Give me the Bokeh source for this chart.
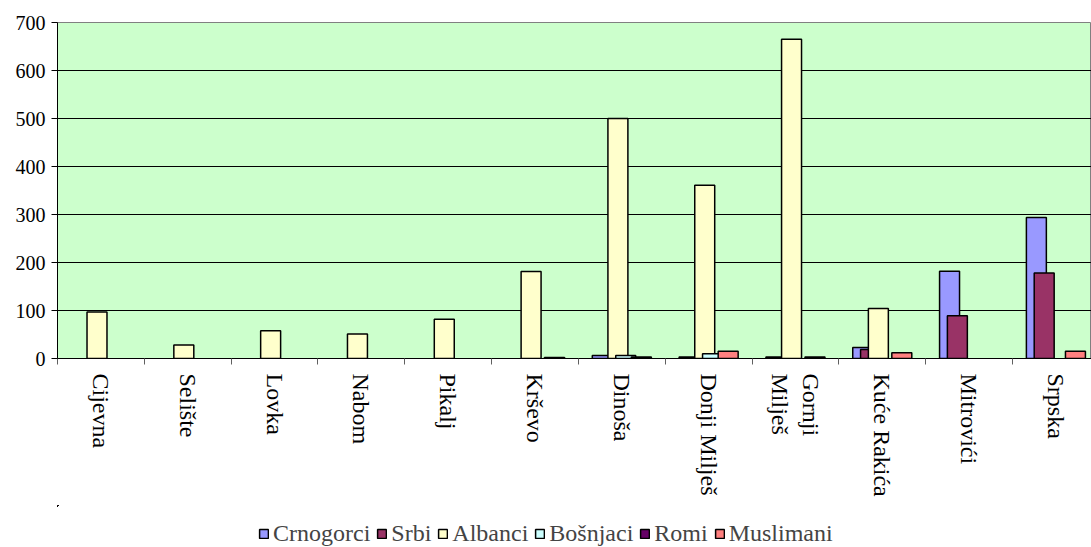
import math
from bokeh.plotting import figure
from bokeh.layouts import column
from bokeh.models import ColumnDataSource, Range1d, FixedTicker, Legend, LegendItem
from bokeh.embed import file_html
from bokeh.resources import INLINE

categories = ["Cijevna", "Selište", "Lovka", "Nabom", "Pikalj", "Krševo", "Dinoša",
              "Donji Milješ", "Gornji\nMilješ", "Kuće Rakića", "Mitrovići", "Srpska"]
series = ["Crnogorci", "Srbi", "Albanci", "Bošnjaci", "Romi", "Muslimani"]
crnogorci = [0, 0, 0, 0, 0, 0, 6, 3, 3, 23, 182, 294]
srbi = [0, 0, 0, 0, 0, 0, 0, 0, 0, 19, 89, 178]
albanci = [97, 28, 58, 51, 82, 181, 500, 361, 665, 104, 0, 0]
bosnjaci = [0, 0, 0, 0, 0, 0, 6, 10, 0, 0, 0, 0]
romi = [0, 0, 0, 0, 0, 0, 0, 0, 0, 0, 0, 0]
muslimani = [0, 0, 0, 0, 0, 2, 3, 15, 3, 12, 0, 15]
colors = ["#9999FF", "#993366", "#FFFFCC", "#CCFFFF", "#660066", "#FF8080"]
y_ticks = [0, 100, 200, 300, 400, 500, 600, 700]

FONT = "Liberation Serif"

p = figure(width=1091, height=505, output_backend="svg", toolbar_location=None,
           x_range=Range1d(0, 11.91), y_range=Range1d(0, 700),
           min_border_left=57, min_border_top=22, min_border_right=0, min_border_bottom=147,
           background_fill_color="#CCFFCC", border_fill_color="white",
           outline_line_color="#808080")

# legend-only figure: its ranges keep the proxy bars out of view
leg_fig = figure(width=1091, height=42, output_backend="svg", toolbar_location=None,
                 x_range=Range1d(100, 101), y_range=Range1d(-2000, -1999),
                 x_axis_location=None, y_axis_location=None,
                 min_border_left=0, min_border_right=0, min_border_top=0, min_border_bottom=0,
                 outline_line_color=None, border_fill_color="white",
                 background_fill_color="white")
leg_fig.grid.visible = False

all_vals = [crnogorci, srbi, albanci, bosnjaci, romi, muslimani]
bar_w = 0.23
step = 0.09
first = 0.275
items = []
for k, (name, vals, col) in enumerate(zip(series, all_vals, colors)):
    xs_all = [i + first + k * step for i in range(len(vals))]
    xs = [x for x, v in zip(xs_all, vals) if v > 0]
    tops = [v for v in vals if v > 0]
    src = ColumnDataSource(dict(x=xs, top=tops))
    p.vbar(x="x", top="top", width=bar_w, bottom=0, source=src,
           fill_color=col, line_color="black", line_width=1.5)
    src_all = ColumnDataSource(dict(x=xs_all, top=vals))
    r2 = leg_fig.vbar(x="x", top="top", width=bar_w, bottom=0, source=src_all,
                      fill_color=col, line_color="black", line_width=1.5)
    items.append(LegendItem(label=name, renderers=[r2]))

# grid
p.xgrid.grid_line_color = None
p.ygrid.grid_line_color = "black"
p.ygrid.grid_line_width = 1
p.ygrid.ticker = FixedTicker(ticks=y_ticks)

# y axis
p.yaxis.ticker = FixedTicker(ticks=y_ticks)
p.yaxis.axis_line_color = "black"
p.yaxis.major_tick_out = 6
p.yaxis.major_tick_in = 0
p.yaxis.minor_tick_line_color = None
p.yaxis.major_label_standoff = 6
p.yaxis.major_label_text_font = FONT
p.yaxis.major_label_text_font_size = "20px"
p.yaxis.major_label_text_color = "black"

# x axis
centers = [i + 0.5 for i in range(len(categories))]
bounds = [float(i) for i in range(len(categories) + 1)]
p.xaxis.ticker = FixedTicker(ticks=centers, minor_ticks=bounds)
p.xaxis.major_label_overrides = {c: lab for c, lab in zip(centers, categories)}
p.xaxis.major_tick_line_color = None
p.xaxis.minor_tick_line_color = "#606060"
p.xaxis.minor_tick_out = 6
p.xaxis.minor_tick_in = 0
p.xaxis.axis_line_color = "black"
p.xaxis.major_label_orientation = -math.pi / 2
p.xaxis.major_label_standoff = 9
p.xaxis.major_label_text_font = FONT
p.xaxis.major_label_text_font_size = "24px"
p.xaxis.major_label_text_color = "black"

legend = Legend(items=items, orientation="horizontal", location=(201, 0),
                border_line_color=None, background_fill_alpha=0,
                label_text_font=FONT, label_text_font_size="24px",
                glyph_width=11, glyph_height=11, label_standoff=4, spacing=6,
                padding=0, margin=0)
leg_fig.add_layout(legend, "center")

layout = column(p, leg_fig, spacing=0)
open("out.html", "w").write(file_html(layout, INLINE))
